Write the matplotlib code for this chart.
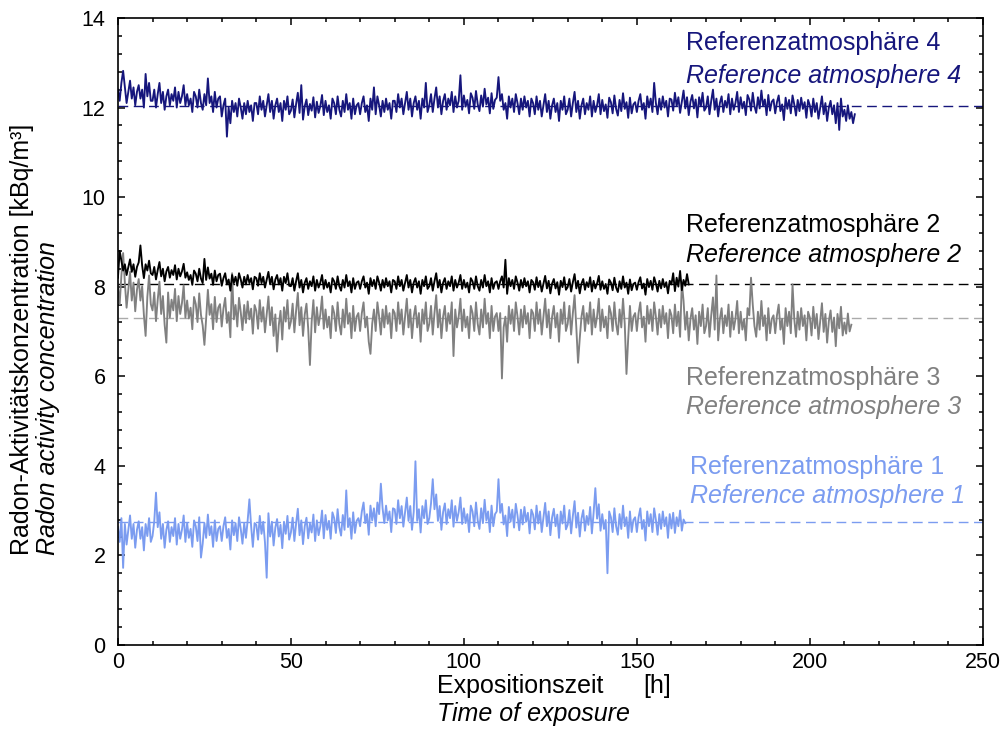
import matplotlib
matplotlib.use("Agg")
import matplotlib.pyplot as plt
import numpy as np
from matplotlib.ticker import MultipleLocator

plt.rcParams['font.family'] = ['Liberation Sans', 'DejaVu Sans']

# Radon-Konzentration in kBq/m³, ein Wert pro halbe Stunde
rn4 = [12.40, 12.15, 12.55, 12.82, 12.45, 12.10, 12.35, 12.60, 12.20, 12.45, 12.05, 12.35, 12.50, 12.20, 12.40, 12.00, 12.75, 12.25, 12.55, 12.15,
       12.15, 12.40, 12.00, 12.30, 12.55, 12.10, 12.35, 11.95, 12.25, 12.40, 12.05, 12.30, 12.15, 12.45, 12.00, 12.35, 12.10, 12.25, 12.50, 12.05,
       12.30, 12.05, 12.20, 11.90, 12.35, 12.25, 12.00, 12.40, 12.10, 11.95, 12.30, 12.05, 12.65, 12.10, 12.25, 11.90, 12.35, 12.00, 12.20, 12.25,
       11.80, 12.05, 12.20, 11.35, 12.00, 11.65, 12.15, 11.90, 12.10, 11.80, 12.20, 12.00, 11.75, 12.10, 11.85, 12.15, 11.90, 12.05, 11.70, 12.10,
       12.10, 11.85, 12.25, 11.95, 12.15, 11.80, 12.05, 12.30, 11.90, 12.15, 11.75, 12.05, 12.20, 11.90, 12.10, 11.70, 12.15, 11.95, 12.25, 11.85,
       11.93, 12.18, 11.78, 12.08, 12.33, 11.88, 12.50, 11.73, 12.03, 12.18, 11.83, 12.08, 11.93, 12.23, 11.78, 12.13, 11.88, 12.03, 12.28, 11.83,
       12.15, 11.90, 12.05, 11.75, 12.20, 12.10, 11.85, 12.25, 11.95, 11.80, 12.15, 11.90, 12.30, 11.95, 12.10, 11.75, 12.20, 11.85, 12.05, 12.10,
       11.85, 12.10, 12.25, 11.90, 12.05, 11.70, 12.20, 11.95, 12.45, 11.85, 12.25, 12.05, 11.80, 12.15, 11.90, 12.20, 11.95, 12.10, 11.75, 12.15,
       12.15, 11.90, 12.30, 12.00, 12.20, 11.85, 12.10, 12.35, 11.95, 12.20, 11.80, 12.10, 12.25, 11.95, 12.15, 11.75, 12.20, 12.00, 12.55, 11.90,
       12.05, 12.30, 11.90, 12.20, 12.45, 12.00, 12.25, 11.85, 12.15, 12.30, 11.95, 12.20, 12.05, 12.35, 11.90, 12.25, 12.00, 12.15, 12.72, 11.95,
       12.27, 12.02, 12.17, 11.87, 12.32, 12.22, 11.97, 12.37, 12.07, 11.92, 12.27, 12.02, 12.42, 12.07, 12.22, 11.87, 12.32, 11.97, 12.17, 12.22,
       12.68, 12.15, 12.30, 11.95, 12.10, 11.75, 12.25, 12.00, 12.20, 11.90, 12.30, 12.10, 11.85, 12.20, 11.95, 12.25, 12.00, 12.15, 11.80, 12.20,
       12.10, 11.85, 12.25, 11.95, 12.15, 11.80, 12.05, 12.30, 11.90, 12.15, 11.75, 12.05, 12.20, 11.90, 12.10, 11.70, 12.15, 11.95, 12.25, 11.85,
       11.95, 12.20, 11.80, 12.10, 12.35, 11.90, 12.15, 11.75, 12.05, 12.20, 11.85, 12.10, 11.95, 12.25, 11.80, 12.15, 11.90, 12.05, 12.30, 11.85,
       12.17, 11.92, 12.07, 11.77, 12.22, 12.12, 11.87, 12.27, 11.97, 11.82, 12.17, 11.92, 12.32, 11.97, 12.12, 11.77, 12.22, 11.87, 12.07, 12.12,
       11.90, 12.15, 12.30, 11.95, 12.10, 11.75, 12.25, 12.00, 12.20, 11.90, 12.55, 12.10, 11.85, 12.20, 11.95, 12.25, 12.00, 12.15, 11.80, 12.20,
       12.18, 11.93, 12.33, 12.03, 12.23, 11.88, 12.13, 12.38, 11.98, 12.23, 11.83, 12.13, 12.28, 11.98, 12.18, 11.78, 12.23, 12.03, 12.33, 11.93,
       12.00, 12.25, 11.85, 12.15, 12.40, 11.95, 12.20, 11.80, 12.10, 12.25, 11.90, 12.15, 12.00, 12.30, 11.85, 12.20, 11.95, 12.10, 12.35, 11.90,
       12.23, 11.98, 12.13, 11.83, 12.28, 12.18, 11.93, 12.33, 12.03, 11.88, 12.23, 11.98, 12.38, 12.03, 12.18, 11.83, 12.28, 11.93, 12.13, 12.18,
       11.87, 12.12, 12.27, 11.92, 12.07, 11.72, 12.22, 11.97, 12.17, 11.87, 12.27, 12.07, 11.82, 12.17, 11.92, 12.22, 11.97, 12.12, 11.77, 12.17,
       12.05, 11.80, 12.20, 11.90, 12.10, 11.75, 12.00, 12.25, 11.85, 12.10, 11.70, 12.00, 12.15, 11.85, 12.05, 11.65, 12.10, 11.50, 12.20, 11.80,
       11.95, 11.70, 12.05, 11.75, 11.90, 11.65, 11.85]

rn2 = [8.20, 8.80, 8.58, 8.36, 8.50, 8.26, 8.44, 8.61, 8.33, 8.50, 8.22, 8.44, 8.54, 8.92, 8.47, 8.19, 8.50, 8.36, 8.58, 8.30,
       8.26, 8.44, 8.16, 8.37, 8.55, 8.23, 8.40, 8.12, 8.34, 8.44, 8.20, 8.37, 8.26, 8.48, 8.16, 8.40, 8.23, 8.34, 8.51, 8.20,
       8.32, 8.15, 8.26, 8.04, 8.36, 8.29, 8.12, 8.40, 8.18, 8.08, 8.62, 8.15, 8.43, 8.18, 8.29, 8.04, 8.36, 8.12, 8.26, 8.29,
       8.02, 8.19, 8.30, 8.05, 8.16, 7.91, 8.26, 8.08, 8.22, 8.02, 8.30, 8.16, 7.98, 8.22, 8.05, 8.26, 8.08, 8.19, 7.94, 8.22,
       8.19, 8.02, 8.30, 8.08, 8.22, 7.98, 8.16, 8.33, 8.05, 8.22, 7.94, 8.16, 8.26, 8.05, 8.19, 7.91, 8.22, 8.08, 8.30, 8.02,
       8.01, 8.19, 7.91, 8.12, 8.30, 7.98, 8.15, 7.87, 8.09, 8.19, 7.95, 8.12, 8.01, 8.23, 7.91, 8.15, 7.98, 8.09, 8.26, 7.95,
       8.15, 7.98, 8.09, 7.87, 8.19, 8.12, 7.95, 8.23, 8.01, 7.91, 8.15, 7.98, 8.26, 8.01, 8.12, 7.87, 8.19, 7.95, 8.09, 8.12,
       7.95, 8.12, 8.23, 7.98, 8.09, 7.84, 8.19, 8.01, 8.15, 7.95, 8.23, 8.09, 7.91, 8.15, 7.98, 8.19, 8.01, 8.12, 7.87, 8.15,
       8.12, 7.95, 8.23, 8.01, 8.15, 7.91, 8.09, 8.26, 7.98, 8.15, 7.87, 8.09, 8.19, 7.98, 8.12, 7.84, 8.15, 8.01, 8.23, 7.95,
       8.01, 8.19, 7.91, 8.12, 8.30, 7.98, 8.15, 7.87, 8.09, 8.19, 7.95, 8.12, 8.01, 8.23, 7.91, 8.15, 7.98, 8.09, 8.26, 7.95,
       8.15, 7.98, 8.09, 7.87, 8.19, 8.12, 7.95, 8.23, 8.01, 7.91, 8.15, 7.98, 8.26, 8.01, 8.12, 7.87, 8.19, 7.95, 8.09, 8.12,
       7.95, 8.12, 8.23, 7.98, 8.60, 7.84, 8.19, 8.01, 8.15, 7.95, 8.23, 8.09, 7.91, 8.15, 7.98, 8.19, 8.01, 8.12, 7.87, 8.15,
       8.10, 7.93, 8.21, 7.99, 8.13, 7.89, 8.07, 8.24, 7.96, 8.13, 7.85, 8.07, 8.17, 7.96, 8.10, 7.82, 8.13, 7.99, 8.21, 7.93,
       7.99, 8.17, 7.89, 8.10, 8.28, 7.96, 8.13, 7.85, 8.07, 8.17, 7.93, 8.10, 7.99, 8.21, 7.89, 8.13, 7.96, 8.07, 8.24, 7.93,
       8.12, 7.95, 8.06, 7.84, 8.16, 8.09, 7.92, 8.20, 7.98, 7.88, 8.12, 7.95, 8.23, 7.98, 8.09, 7.84, 8.16, 7.92, 8.06, 8.09,
       7.93, 8.10, 8.21, 7.96, 8.07, 7.82, 8.17, 7.99, 8.13, 7.93, 8.21, 8.07, 7.89, 8.13, 7.96, 8.17, 7.99, 8.10, 7.85, 8.13,
       8.05, 8.30, 7.90, 8.20, 8.00, 8.35, 7.92, 8.15, 8.02, 8.28, 8.05]

rn3 = [8.01, 7.61, 8.25, 8.75, 8.09, 7.53, 7.93, 8.33, 7.69, 8.09, 7.45, 7.93, 8.17, 7.69, 8.01, 7.37, 6.90, 7.77, 8.25, 7.61,
       7.47, 7.87, 7.23, 7.71, 8.11, 7.39, 7.79, 7.15, 6.75, 7.87, 7.31, 7.71, 7.47, 7.95, 7.23, 7.79, 7.39, 7.63, 8.03, 7.31,
       7.69, 7.29, 7.53, 7.05, 7.77, 7.61, 7.21, 7.85, 7.37, 7.13, 6.70, 7.29, 7.93, 7.37, 7.61, 7.05, 7.77, 7.21, 7.53, 7.61,
       7.11, 7.51, 7.75, 7.19, 7.43, 6.87, 8.30, 7.27, 7.59, 7.11, 7.75, 7.43, 7.03, 7.59, 7.19, 7.67, 7.27, 7.51, 6.95, 7.59,
       7.46, 7.06, 7.70, 7.22, 7.54, 6.98, 7.38, 7.78, 7.14, 7.54, 6.90, 7.38, 6.55, 7.14, 7.46, 6.82, 7.54, 7.22, 7.70, 7.06,
       7.22, 7.62, 6.98, 7.46, 7.86, 7.14, 7.54, 6.90, 7.38, 7.62, 7.06, 6.25, 7.22, 7.70, 6.98, 7.54, 7.14, 7.38, 7.78, 7.06,
       7.49, 7.09, 7.33, 6.85, 7.57, 7.41, 7.01, 7.65, 7.17, 6.93, 7.49, 7.09, 7.73, 7.17, 7.41, 6.85, 7.57, 7.01, 7.33, 7.41,
       7.01, 7.41, 7.65, 7.09, 7.33, 6.77, 6.50, 7.17, 7.49, 7.01, 7.65, 7.33, 6.93, 7.49, 7.09, 7.57, 7.17, 7.41, 6.85, 7.49,
       7.41, 7.01, 7.65, 7.17, 7.49, 6.93, 7.33, 7.73, 7.09, 7.49, 6.85, 7.33, 7.57, 7.09, 7.41, 6.77, 7.49, 7.17, 7.65, 7.01,
       7.17, 7.57, 6.93, 7.41, 7.81, 7.09, 7.49, 6.85, 7.33, 7.57, 7.01, 7.41, 7.17, 7.65, 6.45, 7.49, 7.09, 7.33, 7.73, 7.01,
       7.49, 7.09, 7.33, 6.85, 7.57, 7.41, 7.01, 7.65, 7.17, 6.93, 7.49, 7.09, 7.73, 7.17, 7.41, 6.85, 7.57, 7.01, 7.33, 7.41,
       7.01, 7.41, 5.95, 7.09, 7.33, 6.77, 7.57, 7.17, 7.49, 7.01, 7.65, 7.33, 6.93, 7.49, 7.09, 7.57, 7.17, 7.41, 6.85, 7.49,
       7.41, 7.01, 7.65, 7.17, 7.49, 6.93, 7.33, 7.73, 7.09, 7.49, 6.85, 7.33, 7.57, 7.09, 7.41, 6.77, 7.49, 7.17, 7.65, 7.01,
       7.17, 7.57, 6.93, 7.41, 7.81, 7.09, 6.30, 6.85, 7.33, 7.57, 7.01, 7.41, 7.17, 7.65, 6.93, 7.49, 7.09, 7.33, 7.73, 7.01,
       7.49, 7.09, 7.33, 6.85, 7.57, 7.41, 7.01, 7.65, 7.17, 6.93, 7.49, 7.09, 7.73, 7.17, 6.05, 6.85, 7.57, 7.01, 7.33, 7.41,
       7.01, 7.41, 7.65, 7.09, 7.33, 6.77, 7.57, 7.17, 7.49, 7.01, 7.65, 7.33, 6.93, 7.49, 7.09, 7.57, 7.17, 7.41, 6.85, 7.49,
       7.36, 6.96, 7.60, 7.12, 7.44, 6.88, 8.10, 7.68, 7.04, 7.44, 6.80, 7.28, 7.52, 7.04, 7.36, 6.72, 7.44, 7.12, 7.60, 6.96,
       7.12, 7.52, 6.88, 7.36, 7.76, 7.04, 8.25, 6.80, 7.28, 7.52, 6.96, 7.36, 7.12, 7.60, 6.88, 7.44, 7.04, 7.28, 7.68, 6.96,
       7.44, 7.04, 7.28, 6.80, 7.52, 7.36, 8.20, 7.60, 7.12, 6.88, 7.44, 7.04, 7.68, 7.12, 7.36, 6.80, 7.52, 6.96, 7.28, 7.36,
       6.96, 7.36, 7.60, 7.04, 7.28, 6.72, 7.52, 7.12, 7.44, 6.96, 8.05, 7.28, 6.88, 7.44, 7.04, 7.52, 7.12, 7.36, 6.80, 7.44,
       7.31, 6.91, 7.55, 7.07, 7.39, 6.83, 7.23, 7.63, 6.99, 7.39, 6.75, 7.23, 7.47, 6.99, 7.31, 6.67, 7.39, 7.07, 7.55, 6.91,
       7.20, 6.95, 7.40, 7.00, 7.15]

rn1 = [2.63, 2.30, 2.83, 1.72, 2.70, 2.24, 2.57, 2.89, 2.37, 2.70, 2.17, 2.57, 2.76, 2.37, 2.63, 2.11, 2.70, 2.43, 2.83, 2.30,
       2.43, 2.76, 3.40, 2.63, 2.96, 2.37, 2.70, 2.17, 2.57, 2.76, 2.30, 2.63, 2.43, 2.83, 2.24, 2.70, 2.37, 2.57, 2.89, 2.30,
       2.72, 2.39, 2.59, 2.19, 2.78, 2.65, 2.32, 2.85, 1.95, 2.26, 2.72, 2.39, 2.91, 2.45, 2.65, 2.19, 2.78, 2.32, 2.59, 2.65,
       2.32, 2.65, 2.85, 2.39, 2.59, 2.13, 2.78, 2.45, 2.72, 2.32, 2.85, 2.59, 2.26, 2.72, 2.39, 2.78, 3.25, 2.65, 2.19, 2.72,
       2.68, 2.35, 2.88, 2.48, 2.75, 2.29, 1.50, 2.94, 2.42, 2.75, 2.22, 2.62, 2.81, 2.42, 2.68, 2.16, 2.75, 2.48, 2.88, 2.35,
       2.51, 2.84, 2.32, 2.71, 3.04, 2.45, 2.78, 2.25, 2.65, 2.84, 2.38, 2.71, 2.51, 2.91, 2.32, 2.78, 2.45, 2.65, 3.00, 2.38,
       2.90, 2.57, 2.77, 2.37, 2.96, 2.83, 2.50, 3.03, 2.63, 2.44, 2.90, 2.57, 3.45, 2.63, 2.83, 2.37, 2.96, 2.50, 2.77, 2.83,
       2.65, 2.98, 3.18, 2.72, 2.92, 2.46, 3.11, 2.78, 3.05, 2.65, 3.18, 2.92, 3.60, 3.05, 2.72, 3.11, 2.78, 2.98, 2.52, 3.05,
       3.03, 2.70, 3.23, 2.83, 3.10, 2.64, 2.97, 3.29, 2.77, 3.10, 2.57, 2.97, 4.10, 2.77, 3.03, 2.51, 3.10, 2.83, 3.23, 2.70,
       2.83, 3.16, 3.70, 3.03, 3.36, 2.77, 3.10, 2.57, 2.97, 3.16, 2.70, 3.03, 2.83, 3.23, 2.64, 3.10, 2.77, 2.97, 3.29, 2.70,
       3.05, 2.72, 2.92, 2.52, 3.11, 2.98, 2.65, 3.18, 2.78, 2.59, 3.05, 2.72, 3.24, 2.78, 2.98, 2.52, 3.11, 2.65, 2.92, 2.98,
       3.70, 2.95, 3.15, 2.69, 2.89, 2.43, 3.08, 2.75, 3.02, 2.62, 3.15, 2.89, 2.56, 3.02, 2.69, 3.08, 2.75, 2.95, 2.49, 3.02,
       2.91, 2.58, 3.11, 2.71, 2.98, 2.52, 2.85, 3.17, 2.65, 2.98, 2.45, 2.85, 3.04, 2.65, 2.91, 2.39, 2.98, 2.71, 3.11, 2.58,
       2.68, 3.01, 2.49, 2.88, 3.21, 2.62, 2.95, 2.42, 2.82, 3.01, 2.55, 2.88, 2.68, 3.08, 2.49, 2.95, 3.50, 2.82, 3.14, 2.55,
       2.92, 2.59, 2.79, 1.60, 2.98, 2.85, 2.52, 3.05, 2.65, 2.46, 2.92, 2.59, 3.11, 2.65, 2.85, 2.39, 2.98, 2.52, 2.79, 2.85,
       2.52, 2.85, 3.05, 2.59, 2.79, 2.33, 2.98, 2.65, 2.92, 2.52, 3.05, 2.79, 2.46, 2.92, 2.59, 2.98, 2.65, 2.85, 2.39, 2.92,
       2.60, 2.95, 2.50, 2.85, 2.65, 3.00, 2.55, 2.80, 2.72]

# Referenzwerte (gestrichelte Linien)
ref4 = 12.03
ref2 = 8.05
ref3 = 7.30
ref1 = 2.75

step_h = 0.5

col4 = '#16167c'
col2 = 'black'
col3 = '#808080'
col1 = '#7b9cf0'

fig = plt.figure(figsize=(10.08, 7.49), dpi=100)
ax = fig.add_axes([0.117, 0.139, 0.858, 0.837])

dash = (7, 4)
ax.axhline(ref4, color=col4, lw=1, dashes=dash, zorder=1)
ax.axhline(ref2, color=col2, lw=1, dashes=dash, zorder=1)
ax.axhline(ref3, color='#aaaaaa', lw=1, dashes=dash, zorder=1)
ax.axhline(ref1, color=col1, lw=1, dashes=dash, zorder=1)

lw = 1.35
ax.plot(np.arange(len(rn1)) * step_h, rn1, color=col1, lw=lw, zorder=2)
ax.plot(np.arange(len(rn3)) * step_h, rn3, color=col3, lw=lw, zorder=2)
ax.plot(np.arange(len(rn2)) * step_h, rn2, color=col2, lw=lw, zorder=3)
ax.plot(np.arange(len(rn4)) * step_h, rn4, color=col4, lw=lw, zorder=2)

ax.set_xlim(0, 250)
ax.set_ylim(0, 14)
ax.xaxis.set_major_locator(MultipleLocator(50))
ax.xaxis.set_minor_locator(MultipleLocator(10))
ax.yaxis.set_major_locator(MultipleLocator(2))
ax.yaxis.set_minor_locator(MultipleLocator(0.4))
ax.tick_params(which='both', direction='in', top=True, right=True, width=1.1)
ax.tick_params(which='major', length=5, labelsize=15.5)
ax.tick_params(which='minor', length=3)
ax.tick_params(axis='y', pad=9)
ax.tick_params(axis='x', pad=5)
for s in ax.spines.values():
    s.set_linewidth(1.2)

fs = 18
ax.text(164.2, 13.44, 'Referenzatmosphäre 4', color=col4, fontsize=fs, va='center')
ax.text(164.2, 12.70, 'Reference atmosphere 4', color=col4, fontsize=fs, va='center', style='italic')
ax.text(164.2, 9.38, 'Referenzatmosphäre 2', color=col2, fontsize=fs, va='center')
ax.text(164.2, 8.71, 'Reference atmosphere 2', color=col2, fontsize=fs, va='center', style='italic')
ax.text(164.2, 5.96, 'Referenzatmosphäre 3', color=col3, fontsize=fs, va='center')
ax.text(164.2, 5.31, 'Reference atmosphere 3', color=col3, fontsize=fs, va='center', style='italic')
ax.text(165.3, 3.97, 'Referenzatmosphäre 1', color=col1, fontsize=fs, va='center')
ax.text(165.3, 3.33, 'Reference atmosphere 1', color=col1, fontsize=fs, va='center', style='italic')

fig.text(0.022, 0.259, 'Radon-Aktivitätskonzentration [kBq/m³]', rotation=90,
         ha='center', va='bottom', fontsize=fs)
fig.text(0.048, 0.259, 'Radon activity concentration', rotation=90,
         ha='center', va='bottom', fontsize=fs, style='italic')

fig.text(437 / 1008, 1 - 686 / 749, 'Expositionszeit', fontsize=fs, va='center')
fig.text(643 / 1008, 1 - 686 / 749, '[h]', fontsize=fs, va='center')
fig.text(437 / 1008, 1 - 714 / 749, 'Time of exposure', fontsize=fs, va='center', style='italic')

fig.savefig('out.png', dpi=100)
